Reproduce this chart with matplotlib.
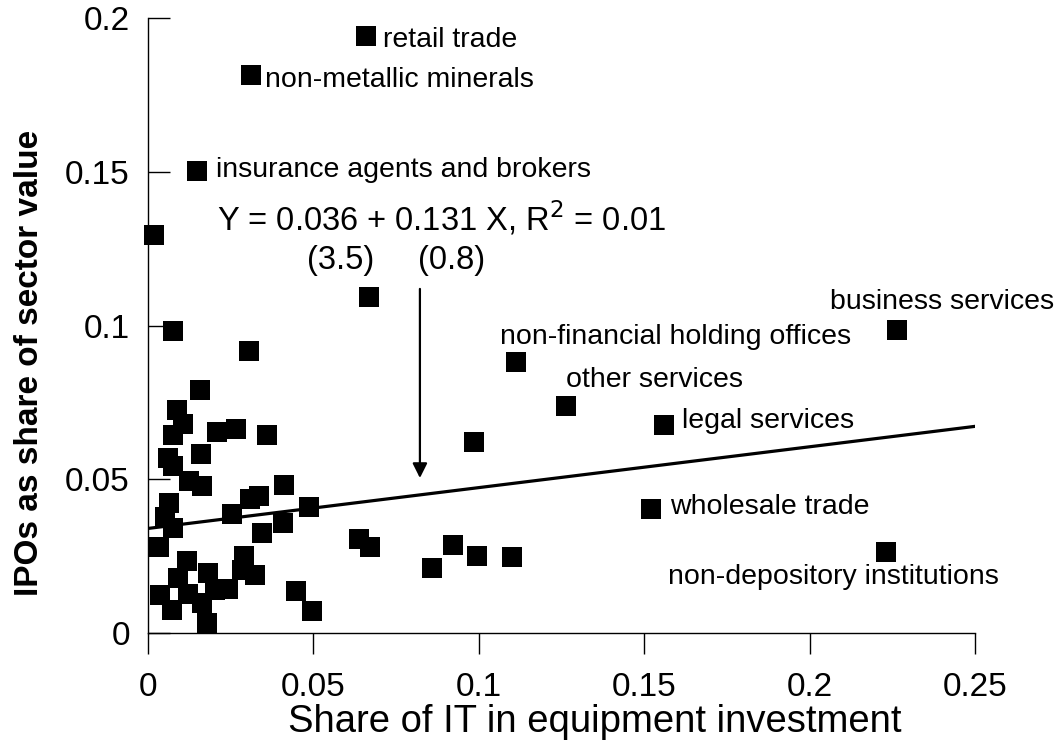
import numpy as np
import matplotlib
matplotlib.use("Agg")
import matplotlib.pyplot as plt

plt.rcParams['font.family'] = ['Liberation Sans', 'DejaVu Sans']

# share of IT in equipment investment, IPOs as share of sector value
it_share = [0.0659, 0.0311, 0.0148, 0.0018, 0.0668, 0.2264, 0.1112, 0.1264,
            0.1560, 0.0985, 0.1520, 0.2231,
            0.0859, 0.0922, 0.0995, 0.1099,
            0.0077, 0.0306, 0.0158, 0.0087, 0.0107, 0.0077, 0.0208, 0.0266,
            0.0361, 0.0060, 0.0159, 0.0077, 0.0124, 0.0163, 0.0063, 0.0051,
            0.0077, 0.0253, 0.0308, 0.0336, 0.0411, 0.0486, 0.0407, 0.0346,
            0.0034, 0.0639, 0.0671, 0.0117, 0.0290, 0.0090, 0.0182, 0.0283,
            0.0323, 0.0243, 0.0203, 0.0122, 0.0036, 0.0072, 0.0162, 0.0177,
            0.0447, 0.0495]
ipo_share = [0.1941, 0.1815, 0.1502, 0.1294, 0.1093, 0.0985, 0.0881, 0.0738,
             0.0676, 0.0621, 0.0403, 0.0263,
             0.0213, 0.0286, 0.0250, 0.0246,
             0.0983, 0.0918, 0.0789, 0.0724, 0.0680, 0.0645, 0.0655, 0.0663,
             0.0645, 0.0569, 0.0582, 0.0543, 0.0493, 0.0479, 0.0422, 0.0378,
             0.0340, 0.0386, 0.0435, 0.0447, 0.0480, 0.0411, 0.0357, 0.0324,
             0.0279, 0.0305, 0.0279, 0.0235, 0.0251, 0.0178, 0.0194, 0.0205,
             0.0188, 0.0144, 0.0140, 0.0127, 0.0124, 0.0075, 0.0097, 0.0032,
             0.0137, 0.0073]

# labelled sectors and where their text sits
label_names = ["retail trade", "non-metallic minerals", "insurance agents and brokers",
               "business services", "non-financial holding offices", "other services",
               "legal services", "wholesale trade", "non-depository institutions"]
label_x = [0.0710, 0.0354, 0.0206, 0.2062, 0.1064, 0.1264, 0.1614, 0.1578, 0.1572]
label_y = [0.1928, 0.1798, 0.1506, 0.1076, 0.0963, 0.0823, 0.0689, 0.0410, 0.0182]

# fitted line as drawn in the chart
fit_x = [0.0, 0.25]
fit_y = [0.034, 0.0672]

xticks = [0, 0.05, 0.1, 0.15, 0.2, 0.25]
xticklabels = ["0", "0.05", "0.1", "0.15", "0.2", "0.25"]
yticks = [0, 0.05, 0.1, 0.15, 0.2]
yticklabels = ["0", "0.05", "0.1", "0.15", "0.2"]

fig = plt.figure(figsize=(10.59, 7.51), dpi=100)
ax = fig.add_axes([148/1059, 1 - 633/751, (975 - 148)/1059, (633 - 18)/751])

ax.scatter(it_share, ipo_share, marker='s', s=228, color='black', linewidths=0,
           clip_on=False, zorder=3)

ax.plot(fit_x, fit_y, color='black', lw=2.3, zorder=2)

for name, tx, ty in zip(label_names, label_x, label_y):
    ax.text(tx, ty, name, fontsize=20.5, ha='left', va='center', clip_on=False)

ax.text(0.0886, 0.1350, "Y = 0.036 + 0.131 X, R$^2$ = 0.01", fontsize=23.5,
        ha='center', va='center')
ax.text(0.0583, 0.1213, "(3.5)", fontsize=23.5, ha='center', va='center')
ax.text(0.0919, 0.1213, "(0.8)", fontsize=23.5, ha='center', va='center')

ax.annotate("", xy=(0.0822, 0.0504), xytext=(0.0822, 0.1119),
            arrowprops=dict(arrowstyle='-|>', color='black', lw=1.6,
                            mutation_scale=22, shrinkA=0, shrinkB=0))

ax.set_xlim(0, 0.25)
ax.set_ylim(0, 0.2)
ax.spines['top'].set_visible(False)
ax.spines['right'].set_visible(False)
ax.spines['left'].set_linewidth(1.0)
ax.spines['bottom'].set_linewidth(1.0)

ax.set_xticks(xticks)
ax.set_xticklabels(xticklabels)
ax.set_yticks(yticks)
ax.set_yticklabels(yticklabels)
ax.tick_params(axis='x', direction='out', length=15, width=1, pad=13, labelsize=24)
ax.tick_params(axis='y', direction='in', length=16, width=1, pad=13, labelsize=24)

fig.text(595/1059, 1 - 722/751, "Share of IT in equipment investment",
         fontsize=27.5, ha='center', va='center')
fig.text(30/1059, 1 - 363/751, "IPOs as share of sector value", fontsize=24,
         fontweight='bold', rotation=90, ha='center', va='center')

fig.savefig("out.png", dpi=100)
